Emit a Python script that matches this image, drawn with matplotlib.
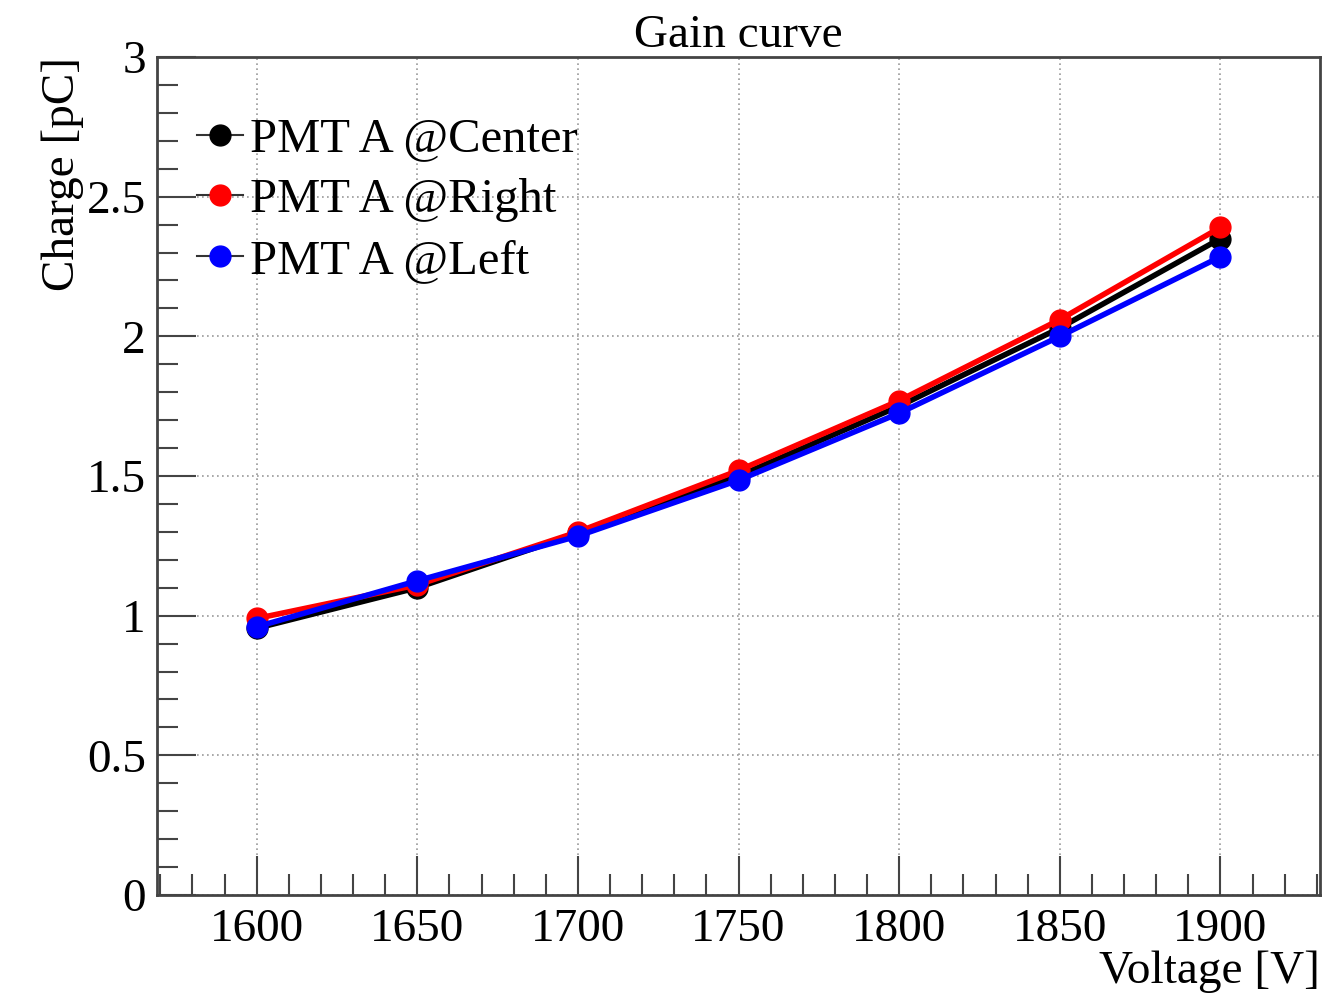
import matplotlib.pyplot as plt
from matplotlib.lines import Line2D
from matplotlib.ticker import MultipleLocator

voltage = [1600, 1650, 1700, 1750, 1800, 1850, 1900]
charge_center = [0.955, 1.10, 1.295, 1.50, 1.75, 2.03, 2.35]
charge_right = [0.99, 1.11, 1.30, 1.52, 1.77, 2.06, 2.39]
charge_left = [0.96, 1.125, 1.285, 1.485, 1.725, 2.00, 2.285]
labels = ['PMT A @Center', 'PMT A @Right', 'PMT A @Left']
colors = ['#000000', '#ff0000', '#0000ff']

plt.rcParams['font.family'] = 'Liberation Serif'

fig = plt.figure(figsize=(13.22, 9.97), dpi=100)
ax = fig.add_axes([0.1188, 0.1023, 0.8797, 0.8405])

for ys, c, lab in zip([charge_center, charge_right, charge_left], colors, labels):
    ax.plot(voltage, ys, '-o', color=c, lw=4, ms=15, label=lab)

ax.set_xlim(1569, 1931)
ax.set_ylim(0, 3)
ax.xaxis.set_major_locator(MultipleLocator(50))
ax.xaxis.set_minor_locator(MultipleLocator(10))
ax.yaxis.set_major_locator(MultipleLocator(0.5))
ax.yaxis.set_minor_locator(MultipleLocator(0.1))
ax.set_yticks([0, 0.5, 1, 1.5, 2, 2.5, 3], ['0', '0.5', '1', '1.5', '2', '2.5', '3'])

ax.tick_params(which='both', direction='in', labelsize=34, width=1.5, color='#444444')
ax.tick_params(which='major', length=28)
ax.tick_params(which='minor', length=15)
ax.tick_params(axis='x', pad=10)
ax.tick_params(axis='y', pad=8)
ax.grid(True, which='major', ls=(0, (1, 2)), color='#999999', lw=1.2)
for s in ax.spines.values():
    s.set_linewidth(2)
    s.set_color('#444444')

ax.set_title('Gain curve', fontsize=34, pad=2)
ax.set_xlabel('Voltage [V]', fontsize=34, loc='right', labelpad=-1)
ax.set_ylabel('Charge [pC]', fontsize=34, loc='top', labelpad=2)

# legend entries: thin line with a filled marker, as ROOT draws them
handles = [Line2D([], [], color='#333333', lw=1.5, marker='o', ms=15,
                  mfc=c, mec=c) for c in colors]
ax.legend(handles, labels, loc='upper left', bbox_to_anchor=(0.018, 0.951),
          frameon=False, fontsize=35, handlelength=0.93, handletextpad=0.16,
          labelspacing=0.34, borderaxespad=0)

fig.savefig('out.png', dpi=100)
